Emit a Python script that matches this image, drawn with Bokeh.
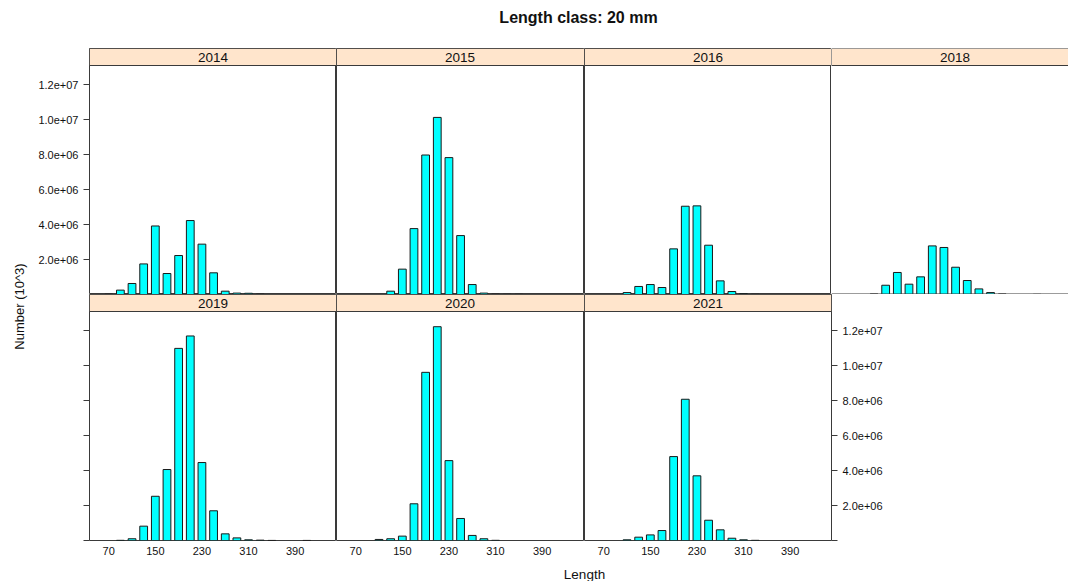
import math
from bokeh.plotting import figure
from bokeh.models import (Range1d, FixedTicker, LinearAxis, BoxAnnotation, Label, Span,
                          ColumnDataSource)
from bokeh.layouts import row, column
from bokeh.embed import file_html
from bokeh.resources import INLINE

# ---------------- data ----------------
title_text = "Length class: 20 mm"
x_label = "Length"
y_label = "Number (10^3)"
x_ticks = [70, 150, 230, 310, 390]
y_ticks = [0, 2.0e6, 4.0e6, 6.0e6, 8.0e6, 1.0e7, 1.2e7]

len_2014 = [70, 90, 110, 130, 150, 170, 190, 210, 230, 250, 270, 290, 310, 330]
num_2014 = [0.02e6, 0.25e6, 0.63e6, 1.75e6, 3.92e6, 1.20e6, 2.23e6, 4.23e6, 2.88e6, 1.24e6,
            0.19e6, 0.08e6, 0.07e6, 0.02e6]

len_2015 = [130, 150, 170, 190, 210, 230, 250, 270, 290, 310, 330, 350]
num_2015 = [0.19e6, 1.45e6, 3.77e6, 7.98e6, 10.13e6, 7.83e6, 3.37e6, 0.57e6, 0.08e6, 0.02e6,
            0.01e6, 0.01e6]

len_2016 = [110, 130, 150, 170, 190, 210, 230, 250, 270, 290, 310, 330]
num_2016 = [0.11e6, 0.46e6, 0.57e6, 0.40e6, 2.61e6, 5.05e6, 5.07e6, 2.82e6, 0.78e6, 0.17e6,
            0.05e6, 0.01e6]

len_2018 = [110, 130, 150, 170, 190, 210, 230, 250, 270, 290, 310, 330, 390]
num_2018 = [0.03e6, 0.53e6, 1.26e6, 0.59e6, 1.01e6, 2.78e6, 2.69e6, 1.56e6, 0.80e6, 0.32e6,
            0.11e6, 0.03e6, 0.01e6]

len_2019 = [90, 110, 130, 150, 170, 190, 210, 230, 250, 270, 290, 310, 330, 350, 410]
num_2019 = [0.01e6, 0.10e6, 0.82e6, 2.53e6, 4.06e6, 10.99e6, 11.70e6, 4.46e6, 1.70e6, 0.38e6,
            0.15e6, 0.04e6, 0.02e6, 0.005e6, 0.005e6]

len_2020 = [110, 130, 150, 170, 190, 210, 230, 250, 270, 290, 310]
num_2020 = [0.06e6, 0.10e6, 0.25e6, 2.10e6, 9.62e6, 12.23e6, 4.57e6, 1.26e6, 0.29e6, 0.10e6,
            0.01e6]

len_2021 = [110, 130, 150, 170, 190, 210, 230, 250, 270, 290, 310, 330]
num_2021 = [0.04e6, 0.19e6, 0.32e6, 0.57e6, 4.80e6, 8.08e6, 3.70e6, 1.16e6, 0.61e6, 0.13e6,
            0.04e6, 0.01e6]

# ---------------- style / geometry ----------------
FONT = "Liberation Sans"
STRIP_BG = "#FFE5CC"
BAR_FILL = "#00FFFF"
BORDER = "#3a3a3a"
X_START, X_END = 37.0, 461.0
YMAX = 13.1e6
PANEL_W = 247
PANEL_H = 229
STRIP_H = 17
Y_TOP = YMAX * (PANEL_H + STRIP_H) / PANEL_H
BAR_W = 20 * 2 / 3

TITLE_H = 48
YLAB_W = 30
LEFT_AX = 59
BOTTOM_AX = 24
RIGHT_AX = 80
TOTAL_W = 1068
TOTAL_H = 581

label_over = {float(v): ("" if v == 0 else f"{v:.1e}") for v in y_ticks}
blank_over = {float(v): "" for v in y_ticks}


def no_grid(f):
    for g in f.grid:
        g.visible = False
    return f


def panel(year, lengths, values, frame_w, left=0, right=0, bottom=0,
          yaxis=None, xaxis=False, open_right=False):
    w = frame_w + left + right
    h = PANEL_H + STRIP_H + bottom
    x_end = X_START + frame_w * (X_END - X_START) / PANEL_W
    p = figure(width=w, height=h, x_range=Range1d(X_START, x_end),
               y_range=Range1d(0, Y_TOP), output_backend="svg", toolbar_location=None,
               x_axis_location=None, y_axis_location=None,
               min_border_left=left, min_border_right=right,
               min_border_top=0, min_border_bottom=bottom)
    no_grid(p)
    p.background_fill_color = "white"
    p.border_fill_color = "white"
    if open_right:
        p.outline_line_color = None
        p.add_layout(Span(location=0, dimension="width", line_color=BORDER, line_width=2))
    else:
        p.outline_line_color = BORDER
        p.outline_line_width = 1

    src = ColumnDataSource(dict(x=lengths, top=values))
    p.vbar(x="x", top="top", bottom=0, width=BAR_W, source=src,
           fill_color=BAR_FILL, line_color="#1a1a1a", line_width=1)

    strip = BoxAnnotation(bottom=YMAX, top=Y_TOP,
                          left=X_START, right=(x_end + 200 if open_right else x_end),
                          fill_color=STRIP_BG, fill_alpha=1.0,
                          line_color=BORDER, line_width=1, line_alpha=1.0)
    p.add_layout(strip)
    p.add_layout(Label(x=(X_START + X_END) / 2, y=(YMAX + Y_TOP) / 2, text=str(year),
                       text_align="center", text_baseline="middle",
                       text_font=FONT, text_font_size="13.5px", text_color="#111111"))

    if yaxis is not None:
        ax = LinearAxis(ticker=FixedTicker(ticks=y_ticks),
                        major_label_overrides=(blank_over if yaxis == "ticks" else label_over))
        ax.axis_line_color = None
        ax.major_tick_out = 6
        ax.major_tick_in = 0
        ax.major_tick_line_color = BORDER
        ax.minor_tick_line_color = None
        ax.major_label_standoff = 5
        ax.major_label_text_font = FONT
        ax.major_label_text_font_size = "11px"
        ax.major_label_text_color = "#111111"
        ax.major_label_orientation = "horizontal"
        p.add_layout(ax, "right" if yaxis == "right" else "left")

    if xaxis:
        xa = LinearAxis(ticker=FixedTicker(ticks=x_ticks))
        xa.axis_line_color = None
        xa.major_tick_line_color = None
        xa.major_tick_out = 0
        xa.major_tick_in = 0
        xa.minor_tick_line_color = None
        xa.major_label_standoff = 6
        xa.major_label_text_font = FONT
        xa.major_label_text_font_size = "11px"
        xa.major_label_text_color = "#111111"
        p.add_layout(xa, "below")
    return p


def blank(w, h):
    f = figure(width=w, height=h, x_range=Range1d(0, w), y_range=Range1d(0, h),
               output_backend="svg", toolbar_location=None,
               x_axis_location=None, y_axis_location=None,
               min_border_left=0, min_border_right=0, min_border_top=0, min_border_bottom=0)
    no_grid(f)
    f.outline_line_color = None
    f.background_fill_color = "white"
    f.border_fill_color = "white"
    return f


# top row
p2014 = panel(2014, len_2014, num_2014, PANEL_W, left=LEFT_AX, yaxis="left")
p2015 = panel(2015, len_2015, num_2015, 248)
p2016 = panel(2016, len_2016, num_2016, PANEL_W)
w_last = TOTAL_W - YLAB_W - (LEFT_AX + PANEL_W) - 248 - PANEL_W
p2018 = panel(2018, len_2018, num_2018, w_last, open_right=True)

# bottom row
p2019 = panel(2019, len_2019, num_2019, PANEL_W, left=LEFT_AX, bottom=BOTTOM_AX,
              yaxis="ticks", xaxis=True)
p2020 = panel(2020, len_2020, num_2020, 248, bottom=BOTTOM_AX, xaxis=True)
p2021 = panel(2021, len_2021, num_2021, PANEL_W, right=RIGHT_AX, bottom=BOTTOM_AX,
              yaxis="right", xaxis=True)

grid_h = 2 * (PANEL_H + STRIP_H) + BOTTOM_AX

title_fig = blank(TOTAL_W, TITLE_H)
title_fig.add_layout(Label(x=578, y=TITLE_H - 17, text=title_text, text_align="center",
                           text_baseline="middle", text_font=FONT, text_font_size="16px",
                           text_font_style="bold", text_color="#111111"))

ylab_fig = blank(YLAB_W, grid_h)
ylab_fig.add_layout(Label(x=19, y=grid_h - (306 - TITLE_H), text=y_label, angle=math.pi / 2,
                          text_align="center", text_baseline="middle", text_font=FONT,
                          text_font_size="13px", text_color="#111111"))

xlab_h = TOTAL_H - TITLE_H - grid_h
xlab_fig = blank(TOTAL_W, xlab_h)
xlab_fig.add_layout(Label(x=584, y=xlab_h - (574 - TITLE_H - grid_h), text=x_label,
                          text_align="center", text_baseline="middle", text_font=FONT,
                          text_font_size="13.5px", text_color="#111111"))

layout = column(
    title_fig,
    row(ylab_fig,
        column(row(p2014, p2015, p2016, p2018, spacing=0),
               row(p2019, p2020, p2021, spacing=0), spacing=0),
        spacing=0),
    xlab_fig,
    spacing=0,
)

open("out.html", "w").write(file_html(layout, INLINE))
